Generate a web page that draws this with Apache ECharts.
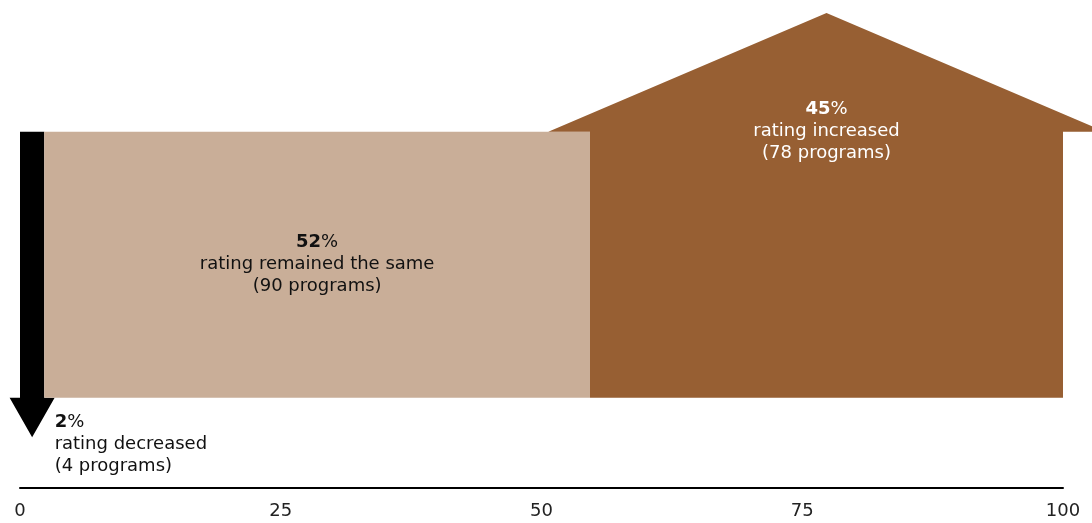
<!DOCTYPE html>
<html>
<head>
<meta charset="utf-8">
<script src="https://cdn.jsdelivr.net/npm/echarts@6/dist/echarts.min.js"></script>
<style>
  html, body { margin: 0; padding: 0; background: #ffffff; }
  #chart { width: 1092px; height: 523px; }
</style>
</head>
<body>
<div id="chart"></div>
<script>
// Program rating changes
const categories = ['rating decreased', 'rating remained the same', 'rating increased'];
const programs = [4, 90, 78];
const xTicks = [0, 25, 50, 75, 100];

// Styling and shape layout (vertical positions in hidden y-axis units)
const colors = ['#000000', '#c9ae98', '#975f33'];
const textColors = ['#111111', '#111111', '#ffffff'];
const BAR_BASE = 19;
const BAR_TOP = 75;
const ROOF_PEAK = 100;
const ARROW_TIP = 10.7;
const ROOF_OVERHANG = 4;   // x units beyond the bar on each side
const ARROW_HALF = 22.5;   // px
const FONT = '"DejaVu Sans", sans-serif';

const total = programs.reduce((a, b) => a + b, 0);
const shares = programs.map(p => p / total * 100);
let acc = 0;
const segments = shares.map((s, i) => {
  const start = acc;
  acc += s;
  return [start, acc, i];
});

function labelText(i) {
  return '{b|' + Math.round(shares[i]) + '}{p|%}\n' + categories[i] + '\n(' + programs[i] + ' programs)';
}

function richFor(i) {
  const c = textColors[i];
  return {
    b: { fontFamily: FONT, fontWeight: 'bold', fontSize: 18, fill: c, lineHeight: 22 },
    p: { fontFamily: FONT, fontSize: 18, fill: c, lineHeight: 22 }
  };
}

function renderItem(params, api) {
  const start = api.value(0);
  const end = api.value(1);
  const idx = api.value(2);
  const tl = api.coord([start, BAR_TOP]);
  const br = api.coord([end, BAR_BASE]);
  const children = [];
  const baseStyle = {
    text: labelText(idx),
    rich: richFor(idx),
    fontFamily: FONT,
    fontSize: 18,
    lineHeight: 22,
    fill: textColors[idx]
  };
  if (idx === 0) {
    // down arrow: shaft plus head, one outline
    const cx = (tl[0] + br[0]) / 2;
    const tip = api.coord([start, ARROW_TIP]);
    children.push({
      type: 'polygon',
      shape: {
        points: [
          [tl[0], tl[1]], [br[0], tl[1]], [br[0], br[1]],
          [cx + ARROW_HALF, br[1]], [cx, tip[1]], [cx - ARROW_HALF, br[1]],
          [tl[0], br[1]]
        ]
      },
      style: { fill: colors[idx] }
    });
    children.push({
      type: 'text',
      x: cx + ARROW_HALF,
      y: br[1] + 14,
      style: Object.assign({}, baseStyle, { align: 'left', verticalAlign: 'top' })
    });
  } else if (idx === 1) {
    children.push({
      type: 'rect',
      shape: { x: tl[0], y: tl[1], width: br[0] - tl[0], height: br[1] - tl[1] },
      style: { fill: colors[idx] }
    });
    children.push({
      type: 'text',
      x: (tl[0] + br[0]) / 2,
      y: (tl[1] + br[1]) / 2,
      style: Object.assign({}, baseStyle, { align: 'center', verticalAlign: 'middle' })
    });
  } else {
    // house: walls plus roof, one outline
    const mid = (start + end) / 2;
    const left = api.coord([start - ROOF_OVERHANG, BAR_TOP]);
    const peak = api.coord([mid, ROOF_PEAK]);
    const right = api.coord([end + ROOF_OVERHANG, BAR_TOP]);
    children.push({
      type: 'polygon',
      shape: {
        points: [
          left, peak, right,
          [br[0], tl[1]], [br[0], br[1]], [tl[0], br[1]], [tl[0], tl[1]]
        ]
      },
      style: { fill: colors[idx] }
    });
    children.push({
      type: 'text',
      x: peak[0],
      y: tl[1],
      style: Object.assign({}, baseStyle, { align: 'center', verticalAlign: 'middle' })
    });
  }
  return { type: 'group', children: children };
}

const chart = echarts.init(document.getElementById('chart'), null, { renderer: 'canvas' });
chart.setOption({
  animation: false,
  backgroundColor: '#ffffff',
  grid: { left: 20, right: 29, top: 13, bottom: 35, containLabel: false },
  xAxis: {
    type: 'value',
    min: xTicks[0],
    max: xTicks[xTicks.length - 1],
    interval: xTicks[1] - xTicks[0],
    axisLine: { show: true, lineStyle: { color: '#000000', width: 2 } },
    axisTick: { show: false },
    splitLine: { show: false },
    axisLabel: {
      color: '#222222',
      fontFamily: FONT,
      fontSize: 18,
      margin: 14,
      showMinLabel: true,
      showMaxLabel: true
    }
  },
  yAxis: { type: 'value', min: 0, max: 100, show: false },
  series: [{
    type: 'custom',
    clip: false,
    renderItem: renderItem,
    encode: { x: [0, 1] },
    data: segments
  }]
});
</script>
</body>
</html>
